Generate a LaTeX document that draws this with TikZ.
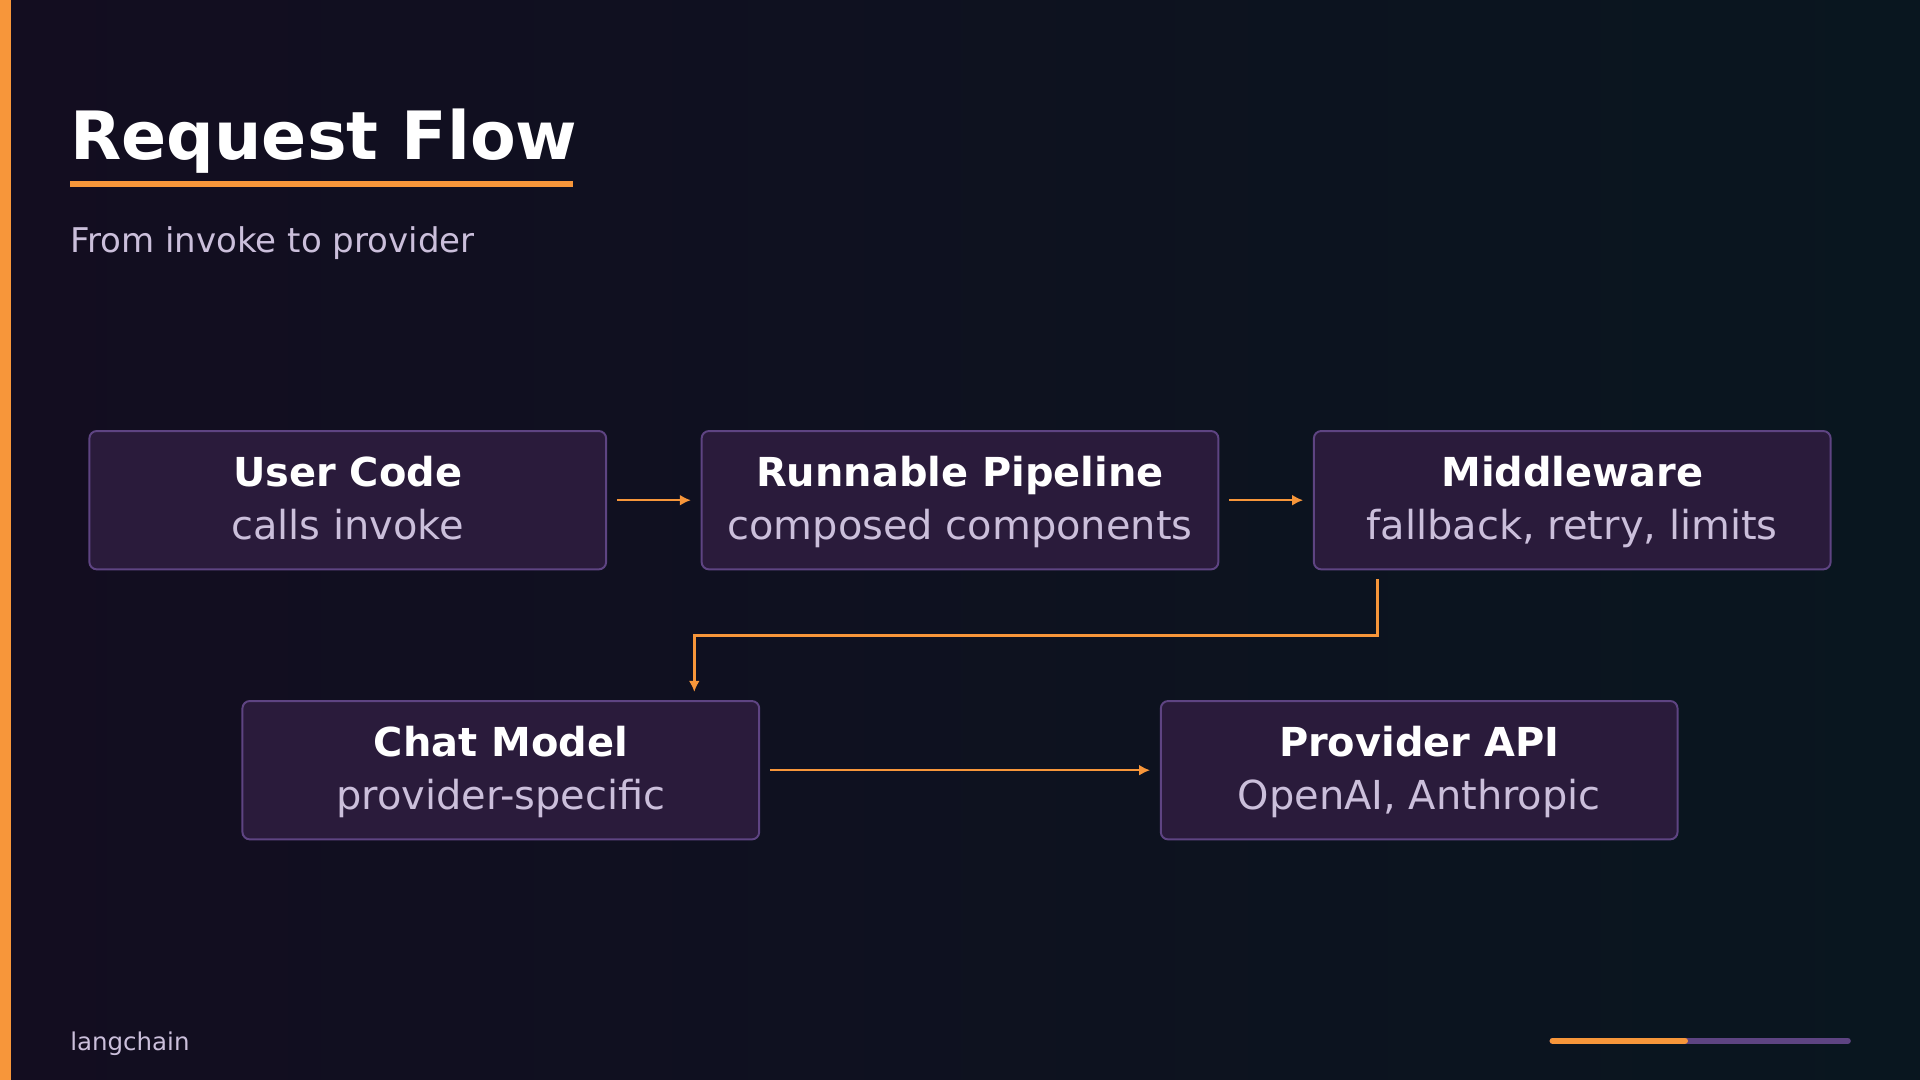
\documentclass[tikz,border=0pt]{standalone}
\usepackage{fontspec}
\setmainfont{DejaVu Sans}
\usetikzlibrary{arrows.meta}
\definecolor{bgA}{HTML}{130D20}
\definecolor{bgB}{HTML}{09161F}
\definecolor{boxfill}{HTML}{2A1B3B}
\definecolor{boxline}{HTML}{5E4482}
\definecolor{accent}{HTML}{F7963A}
\definecolor{soft}{HTML}{CBBFDB}
\definecolor{barp}{HTML}{5E4482}
\begin{document}
\begin{tikzpicture}[x=0.5pt,y=-0.5pt,
  box/.style={draw=boxline,line width=0.8pt,fill=boxfill,rounded corners=3pt,minimum width=211pt,minimum height=56.5pt,inner sep=0pt},
  ttl/.style={text=white,font=\fontsize{16.3}{19}\selectfont\bfseries},
  sub/.style={text=soft,font=\fontsize{16.3}{19}\selectfont},
  arr/.style={draw=accent,line width=1pt,-{Latex[length=4.5pt,width=4.5pt]}}]
\useasboundingbox (0,0) rectangle (1568,882);
\shade[left color=bgA,right color=bgB] (0,0) rectangle (1568,882);
\fill[accent] (0,0) rectangle (9,882);
\node[anchor=base west,inner sep=0pt,text=white,font=\fontsize{27.2}{32}\selectfont\bfseries] (title) at (57,130) {Request Flow};
\fill[accent] (57,148) rectangle (468,153);
\node[anchor=base west,inner sep=0pt,text=soft,font=\fontsize{13.9}{16}\selectfont] (subt) at (57,206) {From invoke to provider};
\node[box] (b1) at (284,408.5) {};
\node[box] (b2) at (784,408.5) {};
\node[box] (b3) at (1284,408.5) {};
\node[box] (b4) at (409,629) {};
\node[box] (b5) at (1159,629) {};
\foreach \n/\t/\s in {b1/User Code/calls invoke,b2/Runnable Pipeline/composed components,b3/Middleware/{fallback, retry, limits},b4/Chat Model/provider-specific,b5/Provider API/{OpenAI, Anthropic}}{
  \node[ttl,anchor=base] (\n t) at ([yshift=-23pt]\n.north) {\t};
  \node[sub,anchor=base] (\n s) at ([yshift=-44.5pt]\n.north) {\s};
}
\coordinate (m1) at (1125,473);
\coordinate (m2) at (567,565);
\draw[arr] ([xshift=4pt]b1.east) -- ([xshift=-4pt]b2.west);
\draw[arr] ([xshift=4pt]b2.east) -- ([xshift=-4pt]b3.west);
\draw[arr] (m1) -- (1125,519) -- (567,519) -- (m2);
\draw[arr] ([xshift=4pt]b4.east) -- ([xshift=-4pt]b5.west);
\node[anchor=base west,inner sep=0pt,text=soft,font=\fontsize{10}{12}\selectfont] (brand) at (57,858) {langchain};
\draw[barp,line width=2.5pt,line cap=round] (1268,850) -- (1509,850);
\draw[accent,line width=2.5pt,line cap=round] (1268,850) -- (1376,850);
\end{tikzpicture}
\end{document}
